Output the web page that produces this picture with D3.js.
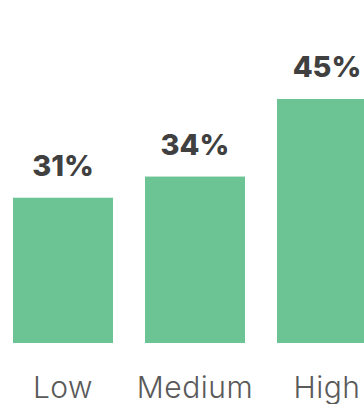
<!DOCTYPE html>
<html>
<head>
<meta charset="utf-8">
<script src="https://cdn.jsdelivr.net/npm/d3@7"></script>
<style>
  html, body { margin: 0; padding: 0; background: #fff; overflow: hidden; }
  svg { display: block; }
</style>
</head>
<body>
<svg id="chart" width="364" height="404"></svg>
<script>
const categories = ["Low", "Medium", "High"];
const values = [31, 34, 45];
const valueLabels = ["31%", "34%", "45%"];

const W = 364;
const H = 404;
const svg = d3.select("#chart");

// bars sit on a baseline at 343, the axis does not start at zero
let x = d3
  .scaleBand()
  .domain(categories)
  .range([-3, 393])
  .paddingInner(32 / 132)
  .paddingOuter(16 / 132);
let y = d3.scaleLinear().domain([10.4, 45]).range([343, 99]);

const data = categories.map((c, i) => {
  return { cat: c, value: values[i], label: valueLabels[i] };
});

svg
  .selectAll(".bar")
  .data(data)
  .enter()
  .append("rect")
  .attr("class", "bar")
  .attr("fill", "#6cc494")
  .attr("x", d => x(d.cat))
  .attr("y", d => y(d.value))
  .attr("width", x.bandwidth())
  .attr("height", d => y.range()[0] - y(d.value));

svg
  .selectAll(".value")
  .data(data)
  .enter()
  .append("text")
  .attr("class", "value")
  .attr("x", d => x(d.cat) + x.bandwidth() / 2)
  .attr("y", d => y(d.value) - 22)
  .attr("text-anchor", "middle")
  .attr("fill", "#404040")
  .style("font-family", "Inter, 'Noto Sans', sans-serif")
  .style("font-weight", 800)
  .style("font-size", "29px")
  .text(d => d.label);

svg
  .selectAll(".cat")
  .data(data)
  .enter()
  .append("text")
  .attr("class", "cat")
  .attr("x", d => x(d.cat) + x.bandwidth() / 2)
  .attr("y", 398)
  .attr("text-anchor", "middle")
  .attr("fill", "#5a5a5a")
  .style("font-family", "Inter, 'Noto Sans', sans-serif")
  .style("font-weight", 300)
  .style("font-size", "30px")
  .style("letter-spacing", "0.5px")
  .text(d => d.cat);
</script>
</body>
</html>
